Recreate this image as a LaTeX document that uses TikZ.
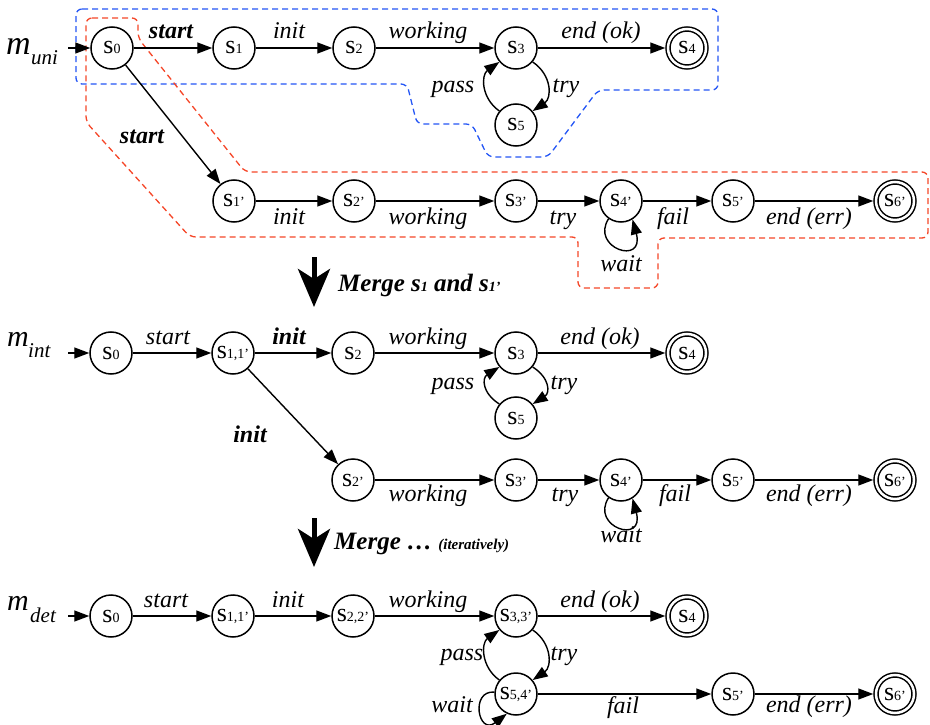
\documentclass[tikz,border=0pt]{standalone}
\usepackage{fontspec}
\setmainfont{Liberation Serif}
\usetikzlibrary{arrows.meta}
\definecolor{bboxc}{RGB}{35,85,245}
\definecolor{rboxc}{RGB}{245,70,40}
\newcommand\sn[1]{{\fontsize{26}{26}\selectfont s}{\fontsize{14}{14}\selectfont #1}}
\newcommand\msub[1]{{\fontsize{14}{14}\selectfont #1}}
\begin{document}
\begin{tikzpicture}[x=1pt,y=-1pt,
 st/.style={circle,draw,line width=1.5pt,minimum size=42pt,inner sep=0pt},
 fin/.style={circle,draw,line width=1.5pt,double,double distance=2.5pt,minimum size=38pt,inner sep=0pt,outer sep=2.75pt},
 arr/.style={line width=1.4pt,-{Triangle[length=15pt,width=11pt]}},
 lab/.style={font=\fontsize{24}{24}\selectfont\itshape,anchor=base,inner sep=0pt},
 blab/.style={font=\fontsize{24}{24}\selectfont\bfseries\itshape,anchor=base,inner sep=0pt},
 mbig/.style={font=\fontsize{34}{34}\selectfont\itshape,anchor=base west,inner sep=0pt},
 mmid/.style={font=\fontsize{30}{30}\selectfont\itshape,anchor=base west,inner sep=0pt},
 msb/.style={font=\fontsize{21}{21}\selectfont\itshape,anchor=base west,inner sep=0pt},
 dsh/.style={line width=1.3pt,dash pattern=on 6pt off 4pt,rounded corners=6pt},
 big/.style={line width=5pt,-{Stealth[length=38pt,width=32pt,inset=10pt]}},
 mlabel/.style={font=\fontsize{25}{25}\selectfont\bfseries\itshape,anchor=base west,inner sep=0pt}
]
\useasboundingbox (0,0) rectangle (930,725);

% dashed groups
\draw[dsh,bboxc] (76,9) -- (718,9) -- (718,90) -- (598,90) -- (548,157) -- (488,157) -- (472,124) -- (417,124) -- (407,84) -- (76,84) -- cycle;
\draw[dsh,rboxc] (86,18) -- (138,18) -- (138,38) -- (245,172) -- (928,172) -- (928,238) -- (658,238) -- (658,288) -- (578,288) -- (578,237) -- (190,237) -- (86,122) -- cycle;

% ---------- m_uni ----------
\node[mbig] (mu) at (6,55) {m};
\node[msb] (mus) at (31,65) {uni};
\coordinate (in1) at (68,48);
\node[st] (a0) at (112,48) {\sn{0}};
\node[st] (a1) at (234,48) {\sn{1}};
\node[st] (a2) at (354,48) {\sn{2}};
\node[st] (a3) at (516,48) {\sn{3}};
\node[fin] (a4) at (687,48) {\sn{4}};
\node[st] (a5) at (516,125) {\sn{5}};
\node[st] (b1) at (234,201) {\sn{1’}};
\node[st] (b2) at (354,201) {\sn{2’}};
\node[st] (b3) at (516,201) {\sn{3’}};
\node[st] (b4) at (621,201) {\sn{4’}};
\node[st] (b5) at (733,201) {\sn{5’}};
\node[fin] (b6) at (895,201) {\sn{6’}};

\draw[arr] (in1) -- (a0);
\draw[arr] (a0) -- (a1);
\draw[arr] (a1) -- (a2);
\draw[arr] (a2) -- (a3);
\draw[arr] (a3) -- (a4);
\draw[arr] (a3.-40) .. controls (552,75) and (552,98) .. (a5.40);
\draw[arr] (a5.140) .. controls (481,98) and (481,75) .. (a3.-140);
\draw[arr] (a0) -- (b1);
\draw[arr] (b1) -- (b2);
\draw[arr] (b2) -- (b3);
\draw[arr] (b3) -- (b4);
\draw[arr] (b4) -- (b5);
\draw[arr] (b5) -- (b6);
\draw[arr] (b4.-125) .. controls (590,248) and (645,266) .. (b4.-58);

\node[blab] (la1) at (171,39) {start};
\node[lab] (la2) at (289,39) {init};
\node[lab] (la3) at (428,39) {working};
\node[lab] (la4) at (601,39) {end (ok)};
\node[lab] (la5) at (453,93) {pass};
\node[lab] (la6) at (566,93) {try};
\node[blab] (la7) at (142,143) {start};
\node[lab] (lb1) at (289,224) {init};
\node[lab] (lb2) at (428,224) {working};
\node[lab] (lb3) at (563,224) {try};
\node[lab] (lb4) at (673,224) {fail};
\node[lab] (lb5) at (809,224) {end (err)};
\node[lab] (lb6) at (621,271) {wait};

% merge 1
\coordinate (g1a) at (314,257);
\coordinate (g1b) at (314,307);
\draw[big] (g1a) -- (g1b);
\node[mlabel] (mg1) at (338,291) {Merge s\msub{1} and s\msub{1’}};

% ---------- m_int ----------
\node[mmid] (mi) at (7,346) {m};
\node[msb] (mis) at (28,357) {int};
\coordinate (in2) at (68,353);
\node[st] (c0) at (111,353) {\sn{0}};
\node[st] (c1) at (233,353) {\sn{1,1’}};
\node[st] (c2) at (353,353) {\sn{2}};
\node[st] (c3) at (516,353) {\sn{3}};
\node[fin] (c4) at (687,353) {\sn{4}};
\node[st] (c5) at (516,418) {\sn{5}};
\node[st] (d2) at (353,480) {\sn{2’}};
\node[st] (d3) at (516,480) {\sn{3’}};
\node[st] (d4) at (621,480) {\sn{4’}};
\node[st] (d5) at (733,480) {\sn{5’}};
\node[fin] (d6) at (895,480) {\sn{6’}};

\draw[arr] (in2) -- (c0);
\draw[arr] (c0) -- (c1);
\draw[arr] (c1) -- (c2);
\draw[arr] (c2) -- (c3);
\draw[arr] (c3) -- (c4);
\draw[arr] (c3.-40) .. controls (550,378) and (550,393) .. (c5.40);
\draw[arr] (c5.140) .. controls (482,393) and (482,378) .. (c3.-140);
\draw[arr] (c1) -- (d2);
\draw[arr] (d2) -- (d3);
\draw[arr] (d3) -- (d4);
\draw[arr] (d4) -- (d5);
\draw[arr] (d5) -- (d6);
\draw[arr] (d4.-125) .. controls (590,527) and (645,545) .. (d4.-58);

\node[lab] (lc1) at (168,344) {start};
\node[blab] (lc2) at (289,344) {init};
\node[lab] (lc3) at (428,344) {working};
\node[lab] (lc4) at (600,344) {end (ok)};
\node[lab] (lc5) at (453,389) {pass};
\node[lab] (lc6) at (564,389) {try};
\node[blab] (lc7) at (250,442) {init};
\node[lab] (ld1) at (428,501) {working};
\node[lab] (ld2) at (565,501) {try};
\node[lab] (ld3) at (675,501) {fail};
\node[lab] (ld4) at (809,501) {end (err)};
\node[lab] (ld5) at (621,542) {wait};

% merge 2
\coordinate (g2a) at (314,518);
\coordinate (g2b) at (314,567);
\draw[big] (g2a) -- (g2b);
\node[mlabel] (mg2) at (334,549) {Merge … {\fontsize{15}{15}\selectfont (iteratively)}};

% ---------- m_det ----------
\node[mmid] (md) at (7,610) {m};
\node[msb] (mds) at (30,622) {det};
\coordinate (in3) at (68,616);
\node[st] (e0) at (111,616) {\sn{0}};
\node[st] (e1) at (233,616) {\sn{1,1’}};
\node[st] (e2) at (353,616) {\sn{2,2’}};
\node[st] (e3) at (516,616) {\sn{3,3’}};
\node[fin] (e4) at (687,616) {\sn{4}};
\node[st] (e5) at (516,694) {\sn{5,4’}};
\node[st] (f5) at (733,694) {\sn{5’}};
\node[fin] (f6) at (895,694) {\sn{6’}};

\draw[arr] (in3) -- (e0);
\draw[arr] (e0) -- (e1);
\draw[arr] (e1) -- (e2);
\draw[arr] (e2) -- (e3);
\draw[arr] (e3) -- (e4);
\draw[arr] (e3.-40) .. controls (552,643) and (552,667) .. (e5.40);
\draw[arr] (e5.140) .. controls (481,667) and (481,643) .. (e3.-140);
\draw[arr] (e5) -- (f5);
\draw[arr] (f5) -- (f6);
\draw[arr] (e5.175) .. controls (470,690) and (478,736) .. (e5.-115);

\node[lab] (le1) at (166,607) {start};
\node[lab] (le2) at (288,607) {init};
\node[lab] (le3) at (428,607) {working};
\node[lab] (le4) at (600,607) {end (ok)};
\node[lab] (le5) at (462,660) {pass};
\node[lab] (le6) at (564,660) {try};
\node[lab] (le7) at (452,712) {wait};
\node[lab] (le8) at (623,713) {fail};
\node[lab] (le9) at (809,712) {end (err)};
\end{tikzpicture}
\end{document}
